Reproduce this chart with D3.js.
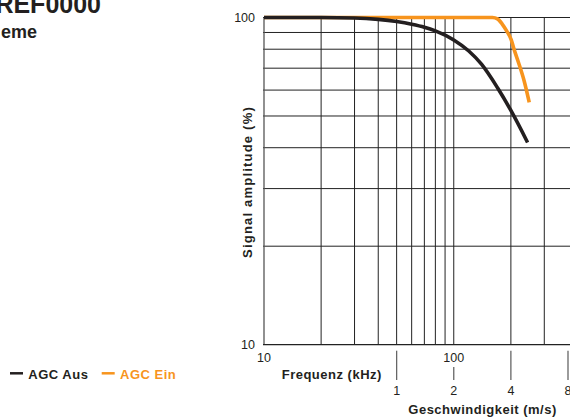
<!DOCTYPE html>
<html>
<head>
<meta charset="utf-8">
<script src="https://cdn.jsdelivr.net/npm/d3@7"></script>
<style>
  body { margin: 0; background: #fff; }
  svg { display: block; font-family: "Liberation Sans", Arial, sans-serif; }
</style>
</head>
<body>
<div id="chart"></div>
<script>
// data (frequency in kHz, amplitude in %)
const freqAus = [10, 20, 30, 40, 50, 60, 70, 80, 100, 120, 140, 170, 200, 245];
const ampAus = [100, 100, 99.7, 98.7, 97.2, 95.4, 93.4, 91, 85.4, 79, 72, 61, 52, 41.5];
const freqEin = [10, 150, 160, 170, 180, 190, 200, 210, 220, 235, 250];
const ampEin = [100, 100, 100, 99, 95.5, 91, 86, 78.5, 72.5, 64, 55];

const xGrid = [20, 30, 40, 50, 60, 70, 80, 90, 100, 200, 300];
const yGrid = [20, 30, 40, 50, 60, 70, 80, 90, 100];
const xTickLabels = [10, 100];
const yTickLabels = [10, 100];
const speedTicks = [1, 2, 4, 8];
const kHzPerMs = 50;

const seriesNames = ['AGC Aus', 'AGC Ein'];
const colors = ['#231f20', '#f7941d'];

const [svgWidth, svgHeight] = [570, 417];

const svg = d3.select('#chart').append('svg')
    .attr('width', svgWidth)
    .attr('height', svgHeight);

const xScale = d3.scaleLog().domain([10, 400]).range([264, 568]);
const yScale = d3.scaleLog().domain([10, 100]).range([344.7, 17.5]);
const speedScale = d3.scaleLog()
    .domain(xScale.domain().map(d => d / kHzPerMs))
    .range(xScale.range());

const gridColor = '#222';

// title bits (cut off on the left in the original)
svg.append('text')
    .attr('x', 101).attr('y', 12.7)
    .attr('text-anchor', 'end')
    .style('font-size', '25px').style('font-weight', 'bold').style('fill', '#231f20')
    .text('REF0000');
svg.append('text')
    .attr('x', 37).attr('y', 37.5)
    .attr('text-anchor', 'end')
    .style('font-size', '18px').style('font-weight', 'bold').style('fill', '#231f20')
    .text('eme');

// grid
const grid = svg.append('g').attr('class', 'grid');
grid.selectAll('.vline')
    .data(xGrid)
    .enter().append('line')
    .attr('class', 'vline')
    .attr('x1', d => xScale(d)).attr('x2', d => xScale(d))
    .attr('y1', yScale(100)).attr('y2', yScale(10))
    .style('stroke', gridColor).style('stroke-width', 1);
grid.selectAll('.hline')
    .data(yGrid)
    .enter().append('line')
    .attr('class', 'hline')
    .attr('x1', xScale(10) - 1).attr('x2', svgWidth)
    .attr('y1', d => yScale(d)).attr('y2', d => yScale(d))
    .style('stroke', gridColor).style('stroke-width', 1);

// axes lines
svg.append('line')
    .attr('x1', xScale(10)).attr('x2', xScale(10))
    .attr('y1', yScale(100)).attr('y2', yScale(10))
    .style('stroke', '#555').style('stroke-width', 1.3);
svg.append('line')
    .attr('x1', xScale(10) - 1).attr('x2', svgWidth)
    .attr('y1', yScale(10)).attr('y2', yScale(10))
    .style('stroke', gridColor).style('stroke-width', 1.3);

// y tick labels
svg.selectAll('.ytick')
    .data(yTickLabels)
    .enter().append('text')
    .attr('class', 'ytick')
    .attr('x', 255)
    .attr('y', d => yScale(d))
    .attr('dy', '0.35em')
    .attr('text-anchor', 'end')
    .style('font-size', '12.5px').style('fill', '#231f20')
    .text(d => d);

// x tick labels
svg.selectAll('.xtick')
    .data(xTickLabels)
    .enter().append('text')
    .attr('class', 'xtick')
    .attr('x', d => xScale(d))
    .attr('y', 361.7)
    .attr('text-anchor', 'middle')
    .style('font-size', '12.5px').style('fill', '#231f20')
    .text(d => d);

// speed axis
svg.selectAll('.stick')
    .data(speedTicks)
    .enter().append('line')
    .attr('class', 'stick')
    .attr('x1', d => speedScale(d)).attr('x2', d => speedScale(d))
    .attr('y1', d => d * kHzPerMs === 100 ? 367 : 350.7)
    .attr('y2', 380)
    .style('stroke', '#666').style('stroke-width', 1.3);
svg.selectAll('.slabel')
    .data(speedTicks)
    .enter().append('text')
    .attr('class', 'slabel')
    .attr('x', d => speedScale(d))
    .attr('y', 395)
    .attr('text-anchor', 'middle')
    .style('font-size', '12.5px').style('fill', '#231f20')
    .text(d => d);

// axis titles
svg.append('text')
    .attr('x', 281.7).attr('y', 379.3)
    .style('font-size', '13px').style('font-weight', 'bold')
    .style('letter-spacing', '0.5px').style('fill', '#231f20')
    .text('Frequenz (kHz)');
svg.append('text')
    .attr('x', 408.3).attr('y', 413.5)
    .style('font-size', '13px').style('font-weight', 'bold')
    .style('letter-spacing', '0.5px').style('fill', '#231f20')
    .text('Geschwindigkeit (m/s)');
svg.append('text')
    .attr('transform', 'translate(252,182) rotate(-90)')
    .attr('text-anchor', 'middle')
    .style('font-size', '13px').style('font-weight', 'bold')
    .style('letter-spacing', '1.2px').style('fill', '#231f20')
    .text('Signal amplitude (%)');

// curves
const line = d3.line()
    .x(d => xScale(d[0]))
    .y(d => yScale(d[1]))
    .curve(d3.curveMonotoneX);

const series = [
    d3.zip(freqAus, ampAus),
    d3.zip(freqEin, ampEin)
];

svg.selectAll('.curve')
    .data([series[1], series[0]])
    .enter().append('path')
    .attr('class', 'curve')
    .attr('d', line)
    .style('fill', 'none')
    .style('stroke', (d, i) => i === 0 ? colors[1] : colors[0])
    .style('stroke-width', 3.6);

// legend
const legendX = [10, 101.7];
const legend = svg.selectAll('.legend')
    .data(seriesNames)
    .enter().append('g')
    .attr('class', 'legend')
    .attr('transform', (d, i) => 'translate(' + legendX[i] + ',373.3)');
legend.append('line')
    .attr('x1', 0).attr('x2', 13)
    .style('stroke', (d, i) => colors[i]).style('stroke-width', 2.5);
legend.append('text')
    .attr('x', 18.3).attr('y', 5.7)
    .style('font-size', '13px').style('font-weight', 'bold')
    .style('letter-spacing', '0.5px')
    .style('fill', (d, i) => colors[i])
    .text(d => d);
</script>
</body>
</html>
